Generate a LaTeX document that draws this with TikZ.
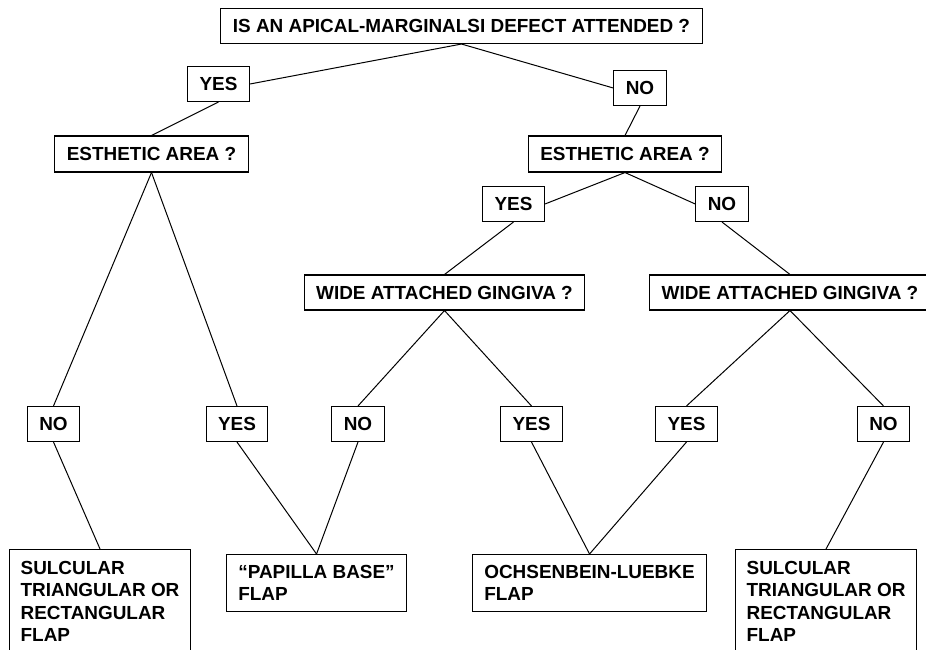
\documentclass[tikz,border=0pt]{standalone}
\usepackage{fontspec}
\setmainfont{Liberation Sans}

\begin{document}
\begin{tikzpicture}[x=0.75pt,y=-0.75pt,
    every node/.style={font=\fontsize{14.2}{16.9}\selectfont\bfseries},
    box/.style={draw,line width=0.8pt,inner xsep=9pt,inner ysep=0pt,minimum height=26.25pt},
    flapbox/.style={draw,line width=0.8pt,anchor=north west,align=left,inner xsep=0pt,inner ysep=0pt},
    link/.style={line width=0.75pt}]
    \useasboundingbox (0,0) rectangle (926,650);

    % First question
    \node[box] (top) at (461.5,26) {IS AN APICAL-MARGINALSI DEFECT ATTENDED ?};
    \node[box] (yes1) at (218.5,84) {YES};
    \node[box] (no1) at (640,88) {NO};

    % Esthetic area
    \node[box,minimum height=27pt] (estL) at (151.5,154) {ESTHETIC AREA ?};
    \node[box,minimum height=27pt] (estR) at (625,154) {ESTHETIC AREA ?};
    \node[box] (yes2) at (513.5,204) {YES};
    \node[box] (no2) at (722,204) {NO};

    % Attached gingiva
    \node[box] (wagL) at (444.5,292.5) {WIDE ATTACHED GINGIVA ?};
    \node[box] (wagR) at (790,292.5) {WIDE ATTACHED GINGIVA ?};

    % Answers
    \node[box] (noA) at (53.5,424) {NO};
    \node[box] (yesA) at (237,424) {YES};
    \node[box] (noB) at (358,424) {NO};
    \node[box] (yesB) at (531.5,424) {YES};
    \node[box] (yesC) at (686.5,424) {YES};
    \node[box] (noC) at (883.5,424) {NO};

    % Flaps
    \node[flapbox,minimum width=135.75pt,minimum height=78pt] (sulcL) at (9,549)
        {SULCULAR\\TRIANGULAR OR\\RECTANGULAR\\FLAP};
    \node[flapbox,minimum width=135pt,minimum height=42.75pt] (papilla) at (226,554)
        {``PAPILLA BASE''\\FLAP};
    \node[flapbox,minimum width=175.5pt,minimum height=42.75pt] (ochs) at (472,554)
        {OCHSENBEIN-LUEBKE\\FLAP};
    \node[flapbox,minimum width=135.75pt,minimum height=78pt] (sulcR) at (735,549)
        {SULCULAR\\TRIANGULAR OR\\RECTANGULAR\\FLAP};

    % Connectors
    \draw[link] (top.south) -- (yes1.east);
    \draw[link] (top.south) -- (no1.west);
    \draw[link] (yes1.south) -- (estL.north);
    \draw[link] (no1.south) -- (estR.north);
    \draw[link] (estR.south) -- (yes2.east);
    \draw[link] (estR.south) -- (no2.west);
    \draw[link] (yes2.south) -- (wagL.north);
    \draw[link] (no2.south) -- (wagR.north);
    \draw[link] (estL.south) -- (noA.north);
    \draw[link] (estL.south) -- (yesA.north);
    \draw[link] (wagL.south) -- (noB.north);
    \draw[link] (wagL.south) -- (yesB.north);
    \draw[link] (wagR.south) -- (yesC.north);
    \draw[link] (wagR.south) -- (noC.north);
    \draw[link] (noA.south) -- (sulcL.north);
    \draw[link] (yesA.south) -- (papilla.north);
    \draw[link] (noB.south) -- (papilla.north);
    \draw[link] (yesB.south) -- (ochs.north);
    \draw[link] (yesC.south) -- (ochs.north);
    \draw[link] (noC.south) -- (sulcR.north);
\end{tikzpicture}
\end{document}
